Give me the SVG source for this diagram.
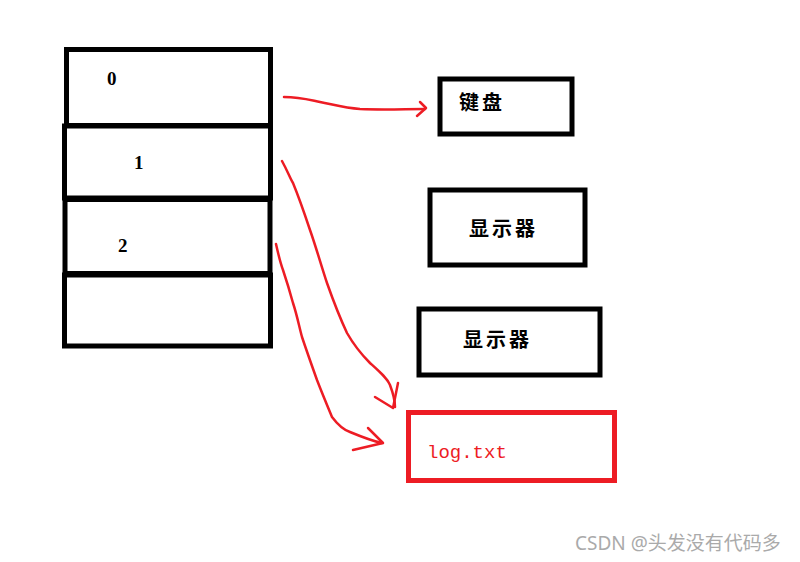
<svg xmlns="http://www.w3.org/2000/svg" width="800" height="562" viewBox="0 0 800 562">
<style>
.box{fill:none;stroke:#000;stroke-width:5}
.rbox{fill:none;stroke:#ed1c24;stroke-width:5}
.num{font-family:"Liberation Serif",serif;font-size:19px;font-weight:bold;fill:#000}
.cjk{font-family:"Noto Sans CJK SC",sans-serif;font-size:20px;font-weight:bold;letter-spacing:3px;fill:#000}
.log{font-family:"Liberation Mono",monospace;font-size:19px;fill:#ed1c24}
.wm{font-family:"Noto Sans","Noto Sans CJK SC",sans-serif;font-size:19px;fill:#aaa}
.arr{fill:none;stroke:#ed1c24;stroke-width:2.5;stroke-linecap:round;stroke-linejoin:round}
</style>
<rect width="800" height="562" fill="#fff"/>
<g id="slot0"><rect class="box" x="66.5" y="49.5" width="204" height="76"/><text class="num" x="107" y="85">0</text></g>
<g id="slot1"><rect class="box" x="64.5" y="126" width="206" height="72"/><text class="num" x="134" y="169">1</text></g>
<g id="slot2"><rect class="box" x="65" y="199.5" width="205" height="74"/><text class="num" x="118" y="252">2</text></g>
<g id="slot3"><rect class="box" x="64.5" y="275" width="206" height="71"/></g>
<g id="keyboard"><rect class="box" x="440" y="79" width="132" height="55" stroke-width="4"/><text class="cjk" x="459" y="110">键盘</text></g>
<g id="display1"><rect class="box" x="430" y="190" width="155" height="75" stroke-width="4"/><text class="cjk" x="469" y="236">显示器</text></g>
<g id="display2"><rect class="box" x="419" y="309" width="181" height="66" stroke-width="4"/><text class="cjk" x="463" y="347">显示器</text></g>
<g id="logtxt"><rect class="rbox" x="408.5" y="412.5" width="206" height="68"/><text class="log" x="427" y="458">log.txt</text></g>
<g id="connectors">
<path class="arr" d="M284,97 C300,97 310,100 320,102 C335,105 345,108 360,109 C385,110 405,109 425,109"/>
<path class="arr" d="M420,102 L426,108 L417,116"/>
<path class="arr" d="M282,161 C288,172 290,178 293,183 C300,200 305,215 310,230 C317,250 321,265 327,283 C333,300 340,318 347,333 C355,347 362,355 370,363 C380,372 387,378 390,385 C393,393 395,400 395,407"/>
<path class="arr" d="M375,397 L393,408 L398,383"/>
<path class="arr" d="M276,244 C278,253 280,262 283,270 C287,282 290,292 293,303 C297,315 299,326 302,337 C307,352 312,366 317,380 C322,393 327,405 332,417 C338,425 344,430 350,432 C362,437 372,441 382,443"/>
<path class="arr" d="M368,428 L383,443 L353,450"/>
</g>
<text class="wm" x="575" y="550">CSDN @头发没有代码多</text>
</svg>
